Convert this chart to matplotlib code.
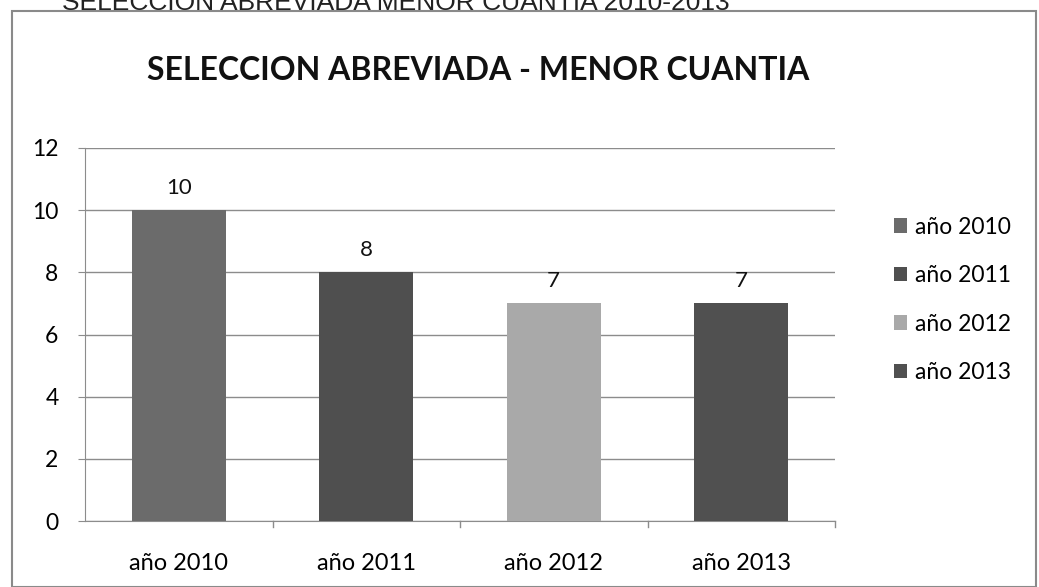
import matplotlib.pyplot as plt
from matplotlib.patches import Rectangle

years = ["año 2010", "año 2011", "año 2012", "año 2013"]
counts = [10, 8, 7, 7]
bar_colors = ["#6b6b6b", "#4f4f4f", "#a9a9a9", "#505050"]
y_ticks = [0, 2, 4, 6, 8, 10, 12]

W, H = 1039, 587
fig = plt.figure(figsize=(W / 100, H / 100), dpi=100)
fig.patch.set_facecolor("white")

# chart frame
fig.patches.append(Rectangle((12 / W, 0), (1036 - 12) / W, 1 - 11 / H,
                             transform=fig.transFigure, fill=False,
                             edgecolor="#8a8a8a", linewidth=1.5))

# heading of the page, cut off at the top in the scan
fig.text(62 / W, 1 - 10 / H, "SELECCION ABREVIADA MENOR CUANTIA 2010-2013",
         fontsize=19, family="Liberation Sans", color="#222222",
         ha="left", va="baseline")

# chart title
fig.text(478 / W, 1 - 70 / H, "SELECCION ABREVIADA - MENOR CUANTIA",
         fontsize=23, fontweight="bold", family="Lato", color="#111111",
         ha="center", va="center")

ax = fig.add_axes([85 / W, 1 - 521 / H, 750 / W, 373 / H])
x = range(len(years))
bars = ax.bar(x, counts, width=0.5, color=bar_colors, zorder=3)

for xi, v in zip(x, counts):
    ax.text(xi, v + 0.4, str(v), ha="center", va="bottom",
            fontsize=16, family="Lato", color="#111111")

ax.set_xlim(-0.5, len(years) - 0.5)
ax.set_ylim(0, 12)
ax.set_yticks(y_ticks)
ax.set_yticklabels([str(t) for t in y_ticks], fontsize=16.5, family="Lato")
ax.yaxis.grid(True, color="#8c8c8c", linewidth=1.0, zorder=0)
ax.tick_params(axis="y", length=5, color="#8c8c8c", pad=14)

ax.set_xticks(list(x))
ax.set_xticklabels(years, fontsize=17, family="Lato")
ax.tick_params(axis="x", length=0, pad=23)
for b in [0.5, 1.5, 2.5, 3.5]:
    ax.plot([b, b], [0, -0.18], color="#8c8c8c", linewidth=1,
            clip_on=False, zorder=4)

for side in ["top", "right"]:
    ax.spines[side].set_visible(False)
ax.spines["left"].set_color("#8c8c8c")
ax.spines["bottom"].set_color("#8c8c8c")

leg = ax.legend(bars, years, loc="upper left",
                bbox_to_anchor=(873 / W, 1 - 196 / H),
                bbox_transform=fig.transFigure, frameon=False,
                prop={"family": "Lato", "size": 16.5},
                handlelength=0.6, handleheight=0.6, handletextpad=0.35,
                labelspacing=1.2)

fig.savefig("out.png", dpi=100)
